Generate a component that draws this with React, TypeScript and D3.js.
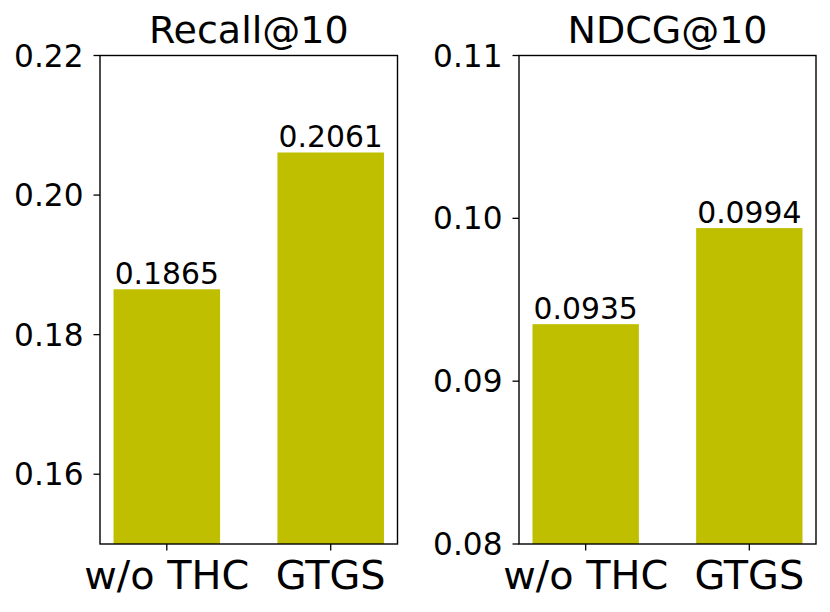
import React from "react";
import * as d3 from "d3";

const categories = ["w/o THC", "GTGS"];
const recallValues = [0.1865, 0.2061];
const ndcgValues = [0.0935, 0.0994];
const recallTicks = [0.16, 0.18, 0.2, 0.22];
const ndcgTicks = [0.08, 0.09, 0.1, 0.11];
const titles = ["Recall@10", "NDCG@10"];

const FONT = "'DejaVu Sans', sans-serif";
const BAR_COLOR = "#bfbf00";

type PanelProps = {
  x0: number;
  x1: number;
  title: string;
  values: number[];
  ticks: number[];
  domain: [number, number];
};

const Y0 = 55.5;
const Y1 = 544;

function Panel({ x0, x1, title, values, ticks, domain }: PanelProps) {
  const width = 0.65;
  const lo = -width / 2;
  const hi = categories.length - 1 + width / 2;
  const pad = (hi - lo) * 0.05;
  const x = d3.scaleLinear().domain([lo - pad, hi + pad]).range([x0, x1]);
  const y = d3.scaleLinear().domain(domain).range([Y1, Y0]);
  const fmt = d3.format(".2f");
  return (
    <g>
      {values.map((v, i) => (
        <rect
          key={i}
          x={x(i - width / 2)}
          width={x(i + width / 2) - x(i - width / 2)}
          y={y(v)}
          height={Y1 - y(v)}
          fill={BAR_COLOR}
        />
      ))}
      {values.map((v, i) => (
        <text
          key={"l" + i}
          x={x(i)}
          y={y(v) - 5.5}
          textAnchor="middle"
          fontFamily={FONT}
          fontSize={29.8}
          fill="#000"
        >
          {v.toFixed(4)}
        </text>
      ))}
      <rect
        x={x0}
        y={Y0}
        width={x1 - x0}
        height={Y1 - Y0}
        fill="none"
        stroke="#000"
        strokeWidth={1.4}
      />
      {ticks.map((t) => (
        <g key={t}>
          <line x1={x0 - 6.5} x2={x0} y1={y(t)} y2={y(t)} stroke="#000" strokeWidth={1.3} />
          <text
            x={x0 - 16.5}
            y={y(t) + 11}
            textAnchor="end"
            fontFamily={FONT}
            fontSize={31.2}
            fill="#000"
          >
            {fmt(t)}
          </text>
        </g>
      ))}
      {categories.map((c, i) => (
        <g key={c}>
          <line x1={x(i)} x2={x(i)} y1={Y1} y2={Y1 + 6.5} stroke="#000" strokeWidth={1.3} />
          <text
            x={x(i)}
            y={589}
            textAnchor="middle"
            fontFamily={FONT}
            fontSize={39.8}
            fill="#000"
          >
            {c}
          </text>
        </g>
      ))}
      <text
        x={(x0 + x1) / 2}
        y={43.3}
        textAnchor="middle"
        fontFamily={FONT}
        fontSize={38}
        fill="#000"
      >
        {title}
      </text>
    </g>
  );
}

export default function App() {
  return (
    <svg
      width={830}
      height={612}
      style={{ position: "absolute", left: 0, top: 0, background: "#fff" }}
    >
      <rect x={0} y={0} width={830} height={612} fill="#fff" />
      <Panel x0={100} x1={397.5} title={titles[0]} values={recallValues} ticks={recallTicks} domain={[0.15, 0.22]} />
      <Panel x0={519} x1={816} title={titles[1]} values={ndcgValues} ticks={ndcgTicks} domain={[0.08, 0.11]} />
    </svg>
  );
}
